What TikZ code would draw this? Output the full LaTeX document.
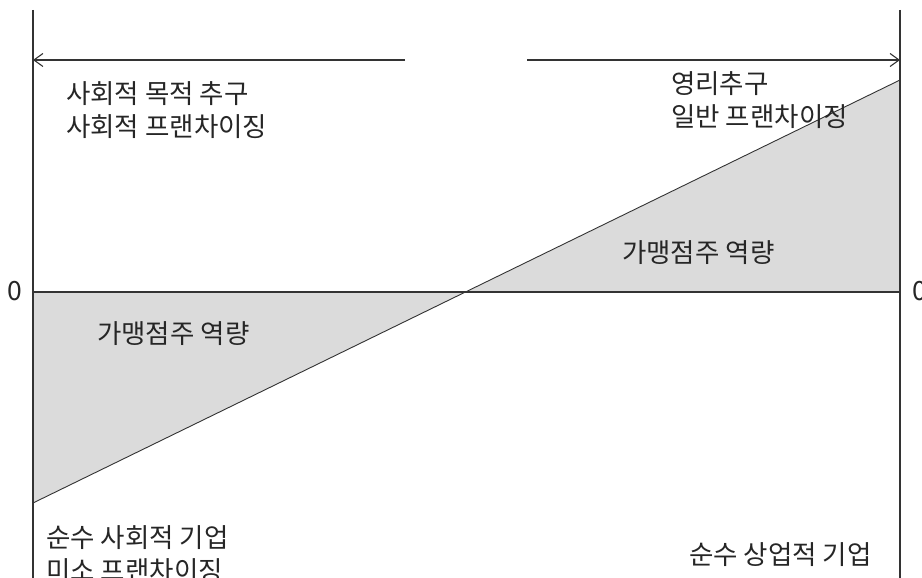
\documentclass[tikz,border=0pt]{standalone}
\usepackage{fontspec}
\setmainfont{Noto Sans CJK KR}
\usetikzlibrary{arrows.meta}
\begin{document}
\begin{tikzpicture}[x=1pt,y=-1pt,
  axis/.style={line width=1.1pt,draw=black!80},
  lbl/.style={font=\fontsize{26.5}{33}\selectfont,text=black!85,inner sep=0pt,align=left},
  shade/.style={fill=black!14},
  arr/.style={line width=1.1pt,draw=black!80,-{Straight Barb[length=9pt,width=13pt]}}]
\useasboundingbox (0,0) rectangle (922,578);
% coordinates
\coordinate (LT) at (33,10);
\coordinate (LB) at (33,578);
\coordinate (RT) at (900,10);
\coordinate (RB) at (900,578);
\coordinate (Z0) at (33,292);
\coordinate (Z1) at (900,292);
\coordinate (X) at (466,292);
\coordinate (D0) at (33,503);
\coordinate (D1) at (900,80);
\coordinate (AL0) at (405,60);
\coordinate (AL1) at (33,60);
\coordinate (AR0) at (527,60);
\coordinate (AR1) at (900,60);
% shaded areas
\fill[shade] (Z0) -- (X) -- (D0) -- cycle;
\fill[shade] (X) -- (Z1) -- (D1) -- cycle;
% axes
\draw[axis] (LT) -- (LB);
\draw[axis] (RT) -- (RB);
\draw[axis] (Z0) -- (Z1);
\draw[line width=0.9pt,draw=black!80] (D0) -- (D1);
% arrows
\draw[arr] (AL0) -- (AL1);
\draw[arr] (AR0) -- (AR1);
% labels
\node[lbl,anchor=center] (z0) at (15,291) {0};
\node[lbl,anchor=west] (z1) at (912,291) {0};
\node[lbl,anchor=north west] (tl) at (66,81) {사회적 목적 추구\\사회적 프랜차이징};
\node[lbl,anchor=north west] (tr) at (671,71) {영리추구\\일반 프랜차이징};
\node[lbl,anchor=north west] (bl) at (46,525) {순수 사회적 기업\\미소 프랜차이징};
\node[lbl,anchor=west] (cl) at (97,334) {가맹점주 역량};
\node[lbl,anchor=west] (cr) at (622,253) {가맹점주 역량};
\node[lbl,anchor=west] (br) at (689,555) {순수 상업적 기업};
\end{tikzpicture}
\end{document}
